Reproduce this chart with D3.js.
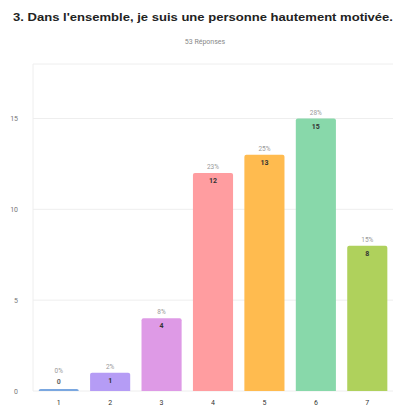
<!DOCTYPE html>
<html><head><meta charset="utf-8">
<script src="https://cdn.jsdelivr.net/npm/d3@7"></script>
<style>body{margin:0;background:#fff;}svg{display:block;}</style>
</head><body>
<svg id="c" width="401" height="407"></svg>
<script>
const categories = ["1","2","3","4","5","6","7"];
const values = [0, 1, 4, 12, 13, 15, 8];
const percents = ["0%","2%","8%","23%","25%","28%","15%"];
const colors = ["#7aa7e0","#b59cf5","#de9ae6","#ff9da0","#ffbb4f","#88d8aa","#afd15c"];
const yTicks = [0, 5, 10, 15];
const title = "3. Dans l'ensemble, je suis une personne hautement motivée.";
const subtitle = "53 Réponses";

const svg = d3.select("#c");
const font = "Roboto, 'Noto Sans', sans-serif";

svg.append("text").attr("x", 203).attr("y", 21).attr("text-anchor","middle")
  .attr("font-family", "'Liberation Sans', Arial, sans-serif").attr("font-weight","bold").attr("font-size", 11.5)
  .attr("textLength", 380).attr("lengthAdjust","spacingAndGlyphs")
  .attr("fill","#222").text(title);
svg.append("text").attr("x", 205).attr("y", 44).attr("text-anchor","middle")
  .attr("font-family", font).attr("font-size", 7).attr("fill","#888").text(subtitle);

const x = d3.scaleBand().domain(categories).range([33, 393]).paddingInner(0.22).paddingOuter(0.11);
const y = d3.scaleLinear().domain([0, 18]).range([391, 64]);

// grid
svg.append("g").selectAll("line").data(yTicks.concat([18])).join("line")
  .attr("x1", 33).attr("x2", 393).attr("y1", d=>y(d)).attr("y2", d=>y(d))
  .attr("stroke","#eee").attr("stroke-width",1);
svg.append("line").attr("x1",33).attr("x2",33).attr("y1",y(18)).attr("y2",y(0))
  .attr("stroke","#eee");

// y axis labels
const yAxis = d3.axisLeft(y).tickValues(yTicks).tickSize(0).tickPadding(10);
const ga = svg.append("g").attr("transform","translate(28,0)").call(yAxis);
ga.select(".domain").remove();
ga.selectAll("text").attr("font-family", font).attr("font-size", 7).attr("fill","#777");

// x axis labels
const xAxis = d3.axisBottom(x).tickSize(0).tickPadding(9.5);
const gx = svg.append("g").attr("transform",`translate(0,${y(0)})`).call(xAxis);
gx.select(".domain").remove();
gx.selectAll("text").attr("font-family", font).attr("font-size", 7).attr("fill","#333");

// bars
const r = 2;
function barPath(d, i) {
  const x0 = x(categories[i]), w = x.bandwidth();
  const top = Math.min(y(d), y(0) - 2), bot = y(0);
  return `M${x0},${bot}V${top+r}Q${x0},${top} ${x0+r},${top}H${x0+w-r}Q${x0+w},${top} ${x0+w},${top+r}V${bot}Z`;
}
svg.append("g").selectAll("path").data(values).join("path")
  .attr("d", barPath).attr("fill", (d,i)=>colors[i]);

// value labels
svg.append("g").selectAll("text").data(values).join("text")
  .attr("x",(d,i)=>x(categories[i]) + x.bandwidth()/2)
  .attr("y",(d)=> d === 0 ? y(0) - 7 : y(d) + 10)
  .attr("text-anchor","middle").attr("font-family", font).attr("font-weight","bold")
  .attr("font-size", 7).attr("fill", d => d === 0 ? "#666" : "#333").text(d=>d);

// percent labels
svg.append("g").selectAll("text").data(values).join("text")
  .attr("x",(d,i)=>x(categories[i]) + x.bandwidth()/2)
  .attr("y",(d)=> d === 0 ? y(0) - 18 : y(d) - 4)
  .attr("text-anchor","middle").attr("font-family", font)
  .attr("font-size", 6.5).attr("fill","#999").text((d,i)=>percents[i]);
</script>
</body></html>
